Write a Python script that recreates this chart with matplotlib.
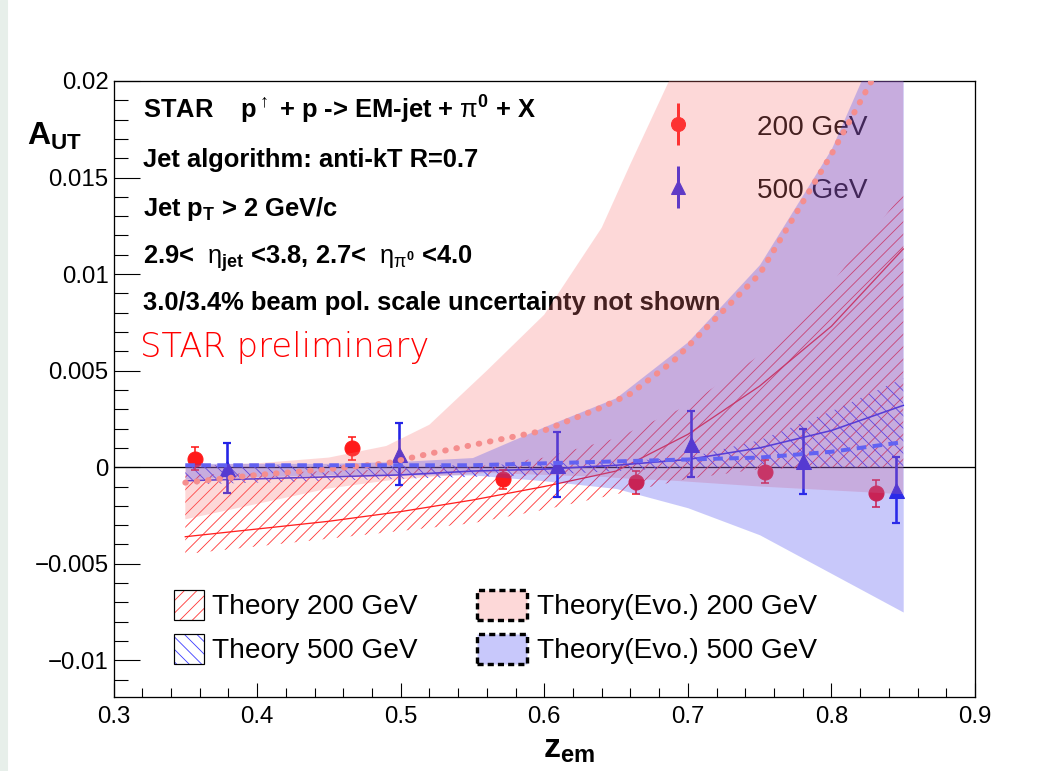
import numpy as np
import matplotlib
matplotlib.use("Agg")
import matplotlib.pyplot as plt
from matplotlib.patches import Patch, Rectangle
from matplotlib.lines import Line2D
from matplotlib.legend_handler import HandlerTuple
from matplotlib.ticker import MultipleLocator, FuncFormatter

# ---- data ----
z200 = [0.357, 0.466, 0.571, 0.664, 0.754, 0.831]
a200 = [0.00043, 0.00097, -0.00062, -0.00079, -0.00023, -0.00136]
e200 = [0.0006, 0.0006, 0.0005, 0.0006, 0.0006, 0.0007]

z500 = [0.379, 0.499, 0.609, 0.702, 0.780, 0.845]
a500 = [-0.00005, 0.00068, 0.00014, 0.00120, 0.00030, -0.00118]
e500 = [0.0013, 0.0016, 0.0017, 0.0017, 0.0017, 0.0017]

# theory (hatched) bands
z_th = [0.35, 0.40, 0.45, 0.50, 0.55, 0.60, 0.65, 0.70, 0.75, 0.80, 0.85]
th200_mid = [-0.0036, -0.0032, -0.0028, -0.0023, -0.0017, -0.0010, -0.0002, 0.0017, 0.0042, 0.0073, 0.0113]
th200_hi = [-0.0004, -0.0003, -0.0002, -0.0001, 0.0000, 0.0005, 0.0015, 0.0032, 0.0058, 0.0095, 0.0142]
th200_lo = [-0.0045, -0.0041, -0.0037, -0.0033, -0.0029, -0.0022, -0.0014, -0.0006, -0.0001, 0.0000, 0.0000]
th500_mid = [-0.0007, -0.0006, -0.0005, -0.0004, -0.0002, -0.0001, 0.0001, 0.0004, 0.0010, 0.0019, 0.0032]
th500_hi = [0.0001, 0.0001, 0.0001, 0.0001, 0.0001, 0.0002, 0.0003, 0.0005, 0.0014, 0.0029, 0.0046]
th500_lo = [-0.0009, -0.0008, -0.0007, -0.0006, -0.0005, -0.0004, -0.0002, 0.0000, 0.0000, 0.0000, 0.0000]

# theory with evolution (filled bands)
z_evo200 = [0.35, 0.40, 0.45, 0.49, 0.52, 0.56, 0.60, 0.64, 0.66, 0.69, 0.75, 0.80, 0.85]
evo200_hi = [0.0001, 0.0002, 0.0005, 0.0011, 0.0022, 0.0050, 0.0079, 0.0124, 0.0157, 0.0205, 0.0320, 0.0450, 0.0600]
evo200_mid = [-0.0008, -0.0004, -0.0001, 0.0002, 0.0007, 0.0013, 0.0019, 0.0031, 0.0038, 0.0055, 0.0100, 0.0162, 0.0230]
evo200_lo = [-0.0027, -0.0019, -0.0011, -0.0007, -0.0005, -0.0003, -0.0004, -0.0005, -0.0006, -0.0007, -0.0010, -0.0012, -0.0014]
evo500_hi = [0.0002, 0.0002, 0.0002, 0.0003, 0.0005, 0.0021, 0.0036, 0.0065, 0.0105, 0.0165, 0.0250]
evo500_mid = [0.0001, 0.0001, 0.0001, 0.0001, 0.0001, 0.0002, 0.0003, 0.0004, 0.0005, 0.0008, 0.0013]
evo500_lo = [-0.0006, -0.0005, -0.0004, -0.0004, -0.0004, -0.0007, -0.0011, -0.0021, -0.0035, -0.0055, -0.0075]

# ---- style ----
DPI = 75
PX = 72.0 / DPI          # points per pixel
W, H = 1063, 771

plt.rcParams["font.family"] = ["Liberation Sans", "DejaVu Sans"]
plt.rcParams["mathtext.fontset"] = "custom"
plt.rcParams["mathtext.rm"] = "Liberation Sans"
plt.rcParams["mathtext.bf"] = "Liberation Sans:bold"
plt.rcParams["mathtext.it"] = "Liberation Sans:italic"
plt.rcParams["hatch.linewidth"] = 0.8

RED = "#ff1a1a"
BLUE = "#2424e6"
PINK = (250 / 255, 118 / 255, 118 / 255)
LAV = (60 / 255, 60 / 255, 240 / 255)
ALPHA = 0.28


def fx(px):
    return px / W


def fy(py):
    return 1 - py / H


fig = plt.figure(figsize=(W / DPI, H / DPI), dpi=DPI)
fig.patches.append(Rectangle((0, 0), fx(7), 1, transform=fig.transFigure,
                             color="#e7efea", zorder=0))
ax = fig.add_axes([fx(113.5), 1 - 697 / H, 861.5 / W, 616 / H])

ax.set_xlim(0.3, 0.9)
ax.set_ylim(-0.0119, 0.02)

# hatched theory bands
ax.fill_between(z_th, th200_lo, th200_hi, facecolor="none", edgecolor="#ff3333",
                hatch="//", linewidth=0, zorder=2)
ax.fill_between(z_th, th500_lo, th500_hi, facecolor="none", edgecolor="#3a3aff",
                hatch="\\\\", linewidth=0, zorder=2)
ax.plot(z_th, th200_mid, color="#ff2020", lw=1.3 * PX, zorder=2)
ax.plot(z_th, th500_mid, color="#2a2aee", lw=1.6 * PX, zorder=2)

ax.axhline(0, color="black", lw=1.3 * PX, zorder=1)

# data points
ax.errorbar(z200, a200, yerr=e200, fmt="o", color=RED, ms=15 * PX,
            elinewidth=1.6 * PX, capsize=4 * PX, capthick=1.6 * PX, zorder=3)
ax.errorbar(z500, a500, yerr=e500, fmt="^", color=BLUE, ms=15 * PX,
            elinewidth=2.6 * PX, capsize=4 * PX, capthick=2.2 * PX, zorder=3)

# evolution bands, translucent on top
ax.fill_between(z_evo200, evo200_lo, evo200_hi, color=PINK, alpha=ALPHA,
                linewidth=0, zorder=4)
ax.fill_between(z_th, evo500_lo, evo500_hi, color=LAV, alpha=ALPHA,
                linewidth=0, zorder=5)
ax.plot(z_evo200, evo200_mid, color="#f58e8e", lw=6 * PX, ls=(0, (0.1, 1.8)),
        dash_capstyle="round", zorder=6)
ax.plot(z_th, evo500_mid, color="#6262f2", lw=4 * PX, ls=(0, (2.4, 1.6)),
        zorder=6)

# axes styling (ROOT like)
ax.xaxis.set_major_locator(MultipleLocator(0.1))
ax.xaxis.set_minor_locator(MultipleLocator(0.02))
ax.yaxis.set_major_locator(MultipleLocator(0.005))
ax.yaxis.set_minor_locator(MultipleLocator(0.001))
fmt = FuncFormatter(lambda v, p: f"{v:g}".replace("-", "\u2212") if abs(v) > 1e-12 else "0")
ax.xaxis.set_major_formatter(fmt)
ax.yaxis.set_major_formatter(fmt)
ax.tick_params(axis="y", which="major", direction="in", length=26 * PX, width=1.1 * PX,
               labelsize=24 * PX, pad=5 * PX)
ax.tick_params(axis="y", which="minor", direction="in", length=14 * PX, width=1.1 * PX)
ax.tick_params(axis="x", which="major", direction="in", length=14 * PX, width=1.1 * PX,
               labelsize=24 * PX, pad=9 * PX)
ax.tick_params(axis="x", which="minor", direction="in", length=9 * PX, width=1.1 * PX)
for s in ax.spines.values():
    s.set_linewidth(1.3 * PX)

# axis titles
fig.text(fx(27), fy(145), r"$\mathbf{A}_{\mathbf{UT}}$", fontsize=32 * PX,
         ha="left", va="baseline")
fig.text(fx(543), fy(758), r"$\mathbf{z}_{\mathbf{em}}$", fontsize=34 * PX,
         ha="left", va="baseline")

# annotation text (under the translucent bands)
bold = dict(fontsize=25.5 * PX, fontweight="bold", ha="left", va="baseline",
            transform=fig.transFigure, zorder=1)
ax.text(fx(143), fy(119),
        r"STAR    p$^{\mathrm{\uparrow}}$ + p -> EM-jet + $\mathrm{\pi}^{\mathbf{0}}$ + X", **bold)
ax.text(fx(143), fy(167), "Jet algorithm: anti-kT R=0.7", **bold)
ax.text(fx(143), fy(216), r"Jet p$_{\mathbf{T}}$ > 2 GeV/c", **bold)
ax.text(fx(143), fy(264),
        r"2.9<  $\mathrm{\eta}_{\mathbf{jet}}$ <3.8, 2.7<  $\mathrm{\eta}_{\mathrm{\pi}^{\mathbf{0}}}$ <4.0",
        **bold)
ax.text(fx(143), fy(310), "3.0/3.4% beam pol. scale uncertainty not shown", **bold)
ax.text(fx(140), fy(357), "STAR preliminary", color="#ff0000", family=["DejaVu Sans"],
        fontweight="light", fontsize=33.7 * PX, ha="left", va="baseline",
        transform=fig.transFigure, zorder=1)

# data legend (top right, also under the bands)
h200 = (Line2D([], [], color=RED, marker="|", ms=42 * PX, mew=3 * PX, ls="none"),
        Line2D([], [], color=RED, marker="o", ms=14 * PX, ls="none"))
h500 = (Line2D([], [], color=BLUE, marker="|", ms=42 * PX, mew=3 * PX, ls="none"),
        Line2D([], [], color=BLUE, marker="^", ms=14 * PX, ls="none"))
F = 28.0
leg_pts = ax.legend([h200, h500], ["200 GeV", "500 GeV"],
                    handler_map={tuple: HandlerTuple(ndivide=1, pad=0)},
                    loc="upper left", bbox_to_anchor=((658 - 113.5) / 861.5, (697 - 113) / 616),
                    frameon=False, fontsize=F * PX, handlelength=40 / F, handleheight=1.0,
                    handletextpad=2.1, labelspacing=1.25, borderpad=0, borderaxespad=0)
leg_pts.set_zorder(1.5)
ax.add_artist(leg_pts)

# theory legends (bottom)
box = dict(facecolor="none", edgecolor="black", lw=1.2 * PX)
h_t200 = (Patch(facecolor="white", edgecolor="#ff3333", hatch="//", lw=0), Patch(**box))
h_t500 = (Patch(facecolor="white", edgecolor="#3a3aff", hatch="\\\\", lw=0), Patch(**box))
leg_t = ax.legend([h_t200, h_t500], ["Theory 200 GeV", "Theory 500 GeV"],
                  handler_map={tuple: HandlerTuple(ndivide=1, pad=0)},
                  loc="upper left", bbox_to_anchor=((174 - 113.5) / 861.5, (697 - 590) / 616),
                  frameon=False, fontsize=F * PX, handlelength=30 / F, handleheight=35 / F,
                  handletextpad=0.3, labelspacing=0.5, borderpad=0, borderaxespad=0)
leg_t.set_zorder(7)
ax.add_artist(leg_t)

dash = dict(edgecolor="black", lw=3.4 * PX, ls=(0, (1.8, 1.2)))
h_e200 = Patch(facecolor="#fdd8d8", **dash)
h_e500 = Patch(facecolor="#c8c8fb", **dash)
leg_e = ax.legend([h_e200, h_e500], ["Theory(Evo.) 200 GeV", "Theory(Evo.) 500 GeV"],
                  loc="upper left", bbox_to_anchor=((477 - 113.5) / 861.5, (697 - 590) / 616),
                  frameon=False, fontsize=F * PX, handlelength=50 / F, handleheight=35 / F,
                  handletextpad=0.35, labelspacing=0.5, borderpad=0, borderaxespad=0)
leg_e.set_zorder(7)

fig.savefig("out.png", dpi=DPI)
